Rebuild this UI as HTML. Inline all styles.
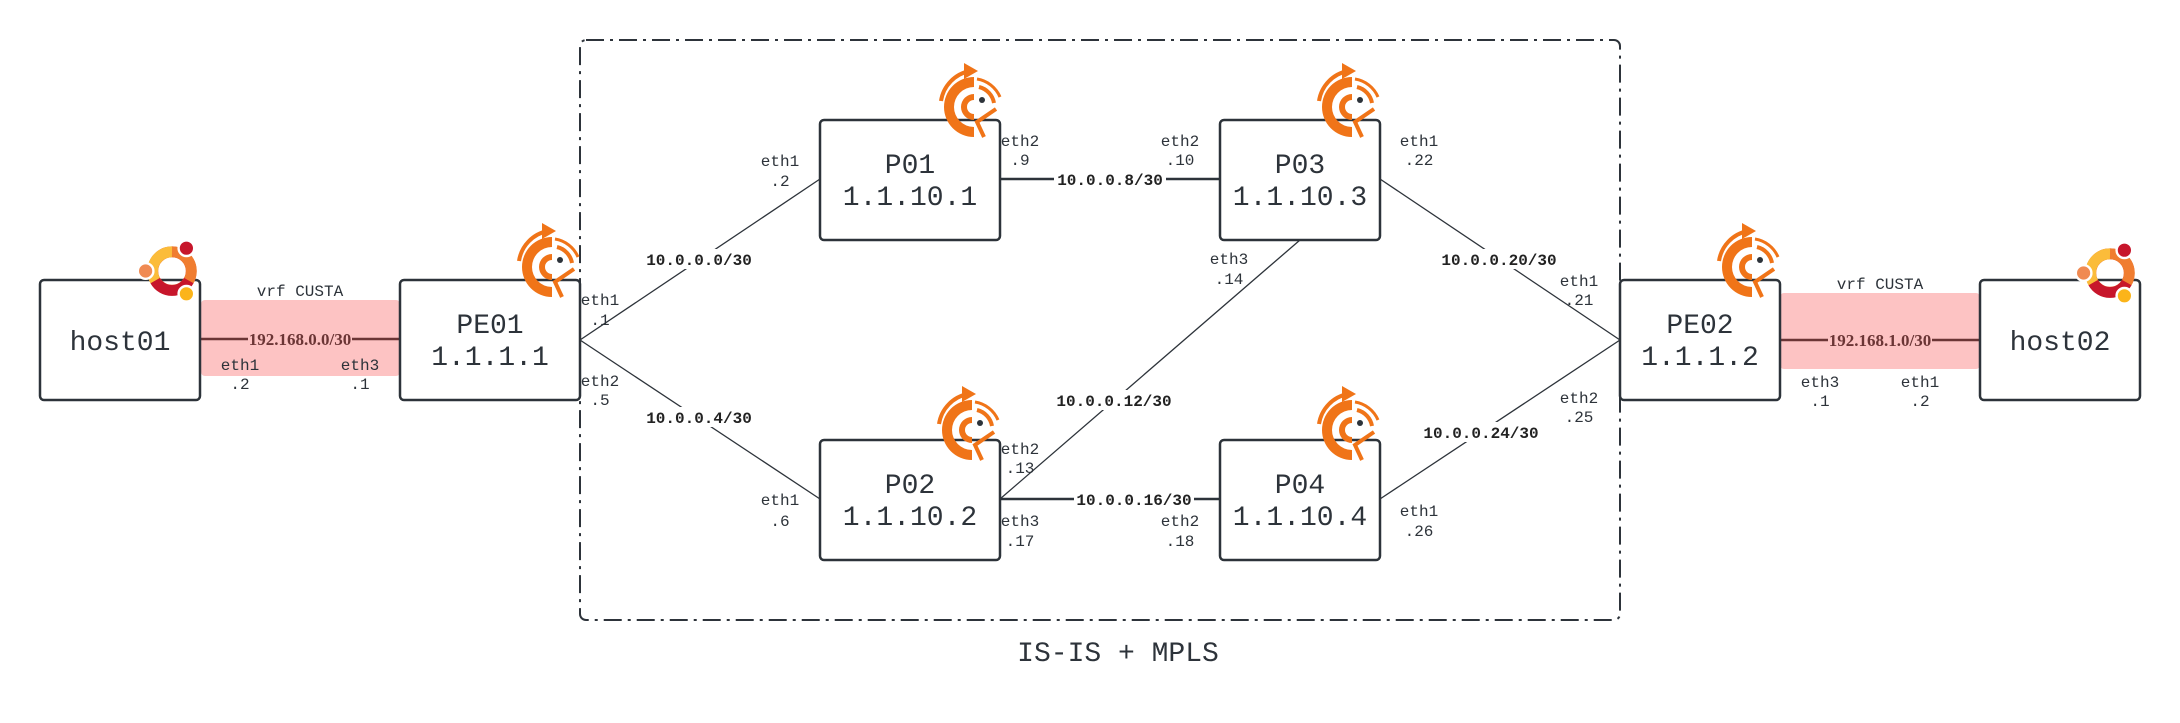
<!DOCTYPE html>
<html><head><meta charset="utf-8"><style>
html,body{margin:0;padding:0;background:#fff;}
svg{display:block;}
text{font-family:"Liberation Mono",monospace;fill:#2d333a;}
.n{font-size:28px;}
.i{font-size:16px;}
.s{font-size:16px;font-weight:bold;fill:#222;}
.v{font-family:"Liberation Serif",serif;font-size:17px;font-weight:bold;fill:#6b3535;}
</style></head><body>
<svg width="2180" height="723" viewBox="0 0 2180 723" xmlns="http://www.w3.org/2000/svg">
<defs>
<g id="frr">
<path d="M0,-30 A30,30 0 0 0 0,30 L0,20 A20,20 0 0 1 0,-20 Z" fill="#f07418"/>
<path d="M0,-13 A13,13 0 0 0 0,13 L0,7 A7,7 0 0 1 0,-7 Z" fill="#f07418"/>
<path d="M-4,-36 A36,36 0 0 0 -33,-6" fill="none" stroke="#f07418" stroke-width="4"/>
<polygon points="-10,-44 4,-36 -10,-28" fill="#f07418"/>
<circle cx="8" cy="-7" r="3" fill="#2d333a"/>
<path d="M5,-20 A20,20 0 0 1 20,-4" fill="none" stroke="#f07418" stroke-width="4"/>
<path d="M10,30 L3,15 L22,2" fill="none" stroke="#f07418" stroke-width="4"/>
<path d="M3,-28 A30,30 0 0 1 26,-10" fill="none" stroke="#f07418" stroke-width="3"/>
</g>
<g id="ubu">
<circle r="16" fill="none" stroke="#e95420" stroke-width="9"/>
<path d="M0,-16 A16,16 0 0 1 14,8" fill="none" stroke="#f07d30" stroke-width="9"/>
<path d="M14,8 A16,16 0 0 1 -14,8" fill="none" stroke="#c7162b" stroke-width="9"/>
<path d="M-14,8 A16,16 0 0 1 0,-16" fill="none" stroke="#fbbc3a" stroke-width="9"/>
<circle cx="-22" cy="0" r="6.5" fill="#f08a52" stroke="#fff" stroke-width="2"/>
<circle cx="12" cy="-19" r="6.5" fill="#c7162b" stroke="#fff" stroke-width="2"/>
<circle cx="12" cy="19" r="6.5" fill="#fbb41a" stroke="#fff" stroke-width="2"/>
</g>
</defs>

<rect x="580" y="40" width="1040" height="580" rx="6" fill="none" stroke="#2d333a" stroke-width="2" stroke-dasharray="18,6,3,6"/>
<text x="1118" y="661" class="n" text-anchor="middle">IS-IS + MPLS</text>

<rect x="201" y="300" width="199" height="76" rx="4" fill="#fdc3c3"/>
<rect x="1780" y="293" width="200" height="76" rx="4" fill="#fdc3c3"/>

<g stroke="#2d333a" stroke-width="1.3" fill="none">
<line x1="580" y1="340" x2="820" y2="179"/>
<line x1="580" y1="340" x2="820" y2="499"/>
<line x1="1000" y1="499" x2="1300" y2="240"/>
<line x1="1380" y1="179" x2="1620" y2="340"/>
<line x1="1380" y1="499" x2="1620" y2="340"/>
</g>
<g stroke="#2d333a" stroke-width="2.5">
<line x1="1000" y1="179" x2="1220" y2="179"/>
<line x1="1000" y1="499" x2="1220" y2="499"/>
</g>
<g stroke="#6b3535" stroke-width="2.5">
<line x1="200" y1="339" x2="400" y2="339"/>
<line x1="1780" y1="340" x2="1980" y2="340"/>
</g>

<g>
<rect x="650" y="249" width="98" height="20" fill="#fff"/><text x="699" y="265" class="s" text-anchor="middle">10.0.0.0/30</text>
<rect x="650" y="407" width="98" height="20" fill="#fff"/><text x="699" y="423" class="s" text-anchor="middle">10.0.0.4/30</text>
<rect x="1054" y="169" width="112" height="20" fill="#fff"/><text x="1110" y="185" class="s" text-anchor="middle">10.0.0.8/30</text>
<rect x="1056" y="390" width="116" height="20" fill="#fff"/><text x="1114" y="406" class="s" text-anchor="middle">10.0.0.12/30</text>
<rect x="1074" y="489" width="120" height="20" fill="#fff"/><text x="1134" y="505" class="s" text-anchor="middle">10.0.0.16/30</text>
<rect x="1441" y="249" width="116" height="20" fill="#fff"/><text x="1499" y="265" class="s" text-anchor="middle">10.0.0.20/30</text>
<rect x="1423" y="422" width="116" height="20" fill="#fff"/><text x="1481" y="438" class="s" text-anchor="middle">10.0.0.24/30</text>
<rect x="248" y="329" width="104" height="20" fill="#fdc3c3"/><text x="300" y="345" class="v" text-anchor="middle">192.168.0.0/30</text>
<rect x="1828" y="330" width="104" height="20" fill="#fdc3c3"/><text x="1880" y="346" class="v" text-anchor="middle">192.168.1.0/30</text>
</g>

<g fill="#fff" stroke="#2d333a" stroke-width="2.5">
<rect x="40" y="280" width="160" height="120" rx="4"/>
<rect x="400" y="280" width="180" height="120" rx="4"/>
<rect x="820" y="120" width="180" height="120" rx="4"/>
<rect x="1220" y="120" width="160" height="120" rx="4"/>
<rect x="820" y="440" width="180" height="120" rx="4"/>
<rect x="1220" y="440" width="160" height="120" rx="4"/>
<rect x="1620" y="280" width="160" height="120" rx="4"/>
<rect x="1980" y="280" width="160" height="120" rx="4"/>
</g>
<g class="n" text-anchor="middle">
<text x="120" y="350">host01</text>
<text x="490" y="333">PE01</text><text x="490" y="365">1.1.1.1</text>
<text x="910" y="173">P01</text><text x="910" y="205">1.1.10.1</text>
<text x="1300" y="173">P03</text><text x="1300" y="205">1.1.10.3</text>
<text x="910" y="493">P02</text><text x="910" y="525">1.1.10.2</text>
<text x="1300" y="493">P04</text><text x="1300" y="525">1.1.10.4</text>
<text x="1700" y="333">PE02</text><text x="1700" y="365">1.1.1.2</text>
<text x="2060" y="350">host02</text>
</g>

<g class="i" text-anchor="middle">
<text x="300" y="296">vrf CUSTA</text>
<text x="1880" y="289">vrf CUSTA</text>
<text x="240" y="370">eth1</text><text x="240" y="389">.2</text>
<text x="360" y="370">eth3</text><text x="360" y="389">.1</text>
<text x="1820" y="387">eth3</text><text x="1820" y="406">.1</text>
<text x="1920" y="387">eth1</text><text x="1920" y="406">.2</text>
<text x="600" y="305">eth1</text><text x="600" y="325">.1</text>
<text x="600" y="386">eth2</text><text x="600" y="405">.5</text>
<text x="780" y="166">eth1</text><text x="780" y="186">.2</text>
<text x="1020" y="146">eth2</text><text x="1020" y="165">.9</text>
<text x="1180" y="146">eth2</text><text x="1180" y="165">.10</text>
<text x="1419" y="146">eth1</text><text x="1419" y="165">.22</text>
<text x="1229" y="264">eth3</text><text x="1229" y="284">.14</text>
<text x="1579" y="286">eth1</text><text x="1579" y="305">.21</text>
<text x="1579" y="403">eth2</text><text x="1579" y="422">.25</text>
<text x="780" y="505">eth1</text><text x="780" y="526">.6</text>
<text x="1020" y="454">eth2</text><text x="1020" y="473">.13</text>
<text x="1020" y="526">eth3</text><text x="1020" y="546">.17</text>
<text x="1180" y="526">eth2</text><text x="1180" y="546">.18</text>
<text x="1419" y="516">eth1</text><text x="1419" y="536">.26</text>
</g>

<use href="#frr" x="552" y="267"/>
<use href="#frr" x="974" y="107"/>
<use href="#frr" x="1352" y="107"/>
<use href="#frr" x="972" y="430"/>
<use href="#frr" x="1352" y="430"/>
<use href="#frr" x="1752" y="267"/>
<g transform="translate(172,271) scale(1.2)"><use href="#ubu"/></g>
<g transform="translate(2110,273) scale(1.2)"><use href="#ubu"/></g>
</svg>
</body></html>
